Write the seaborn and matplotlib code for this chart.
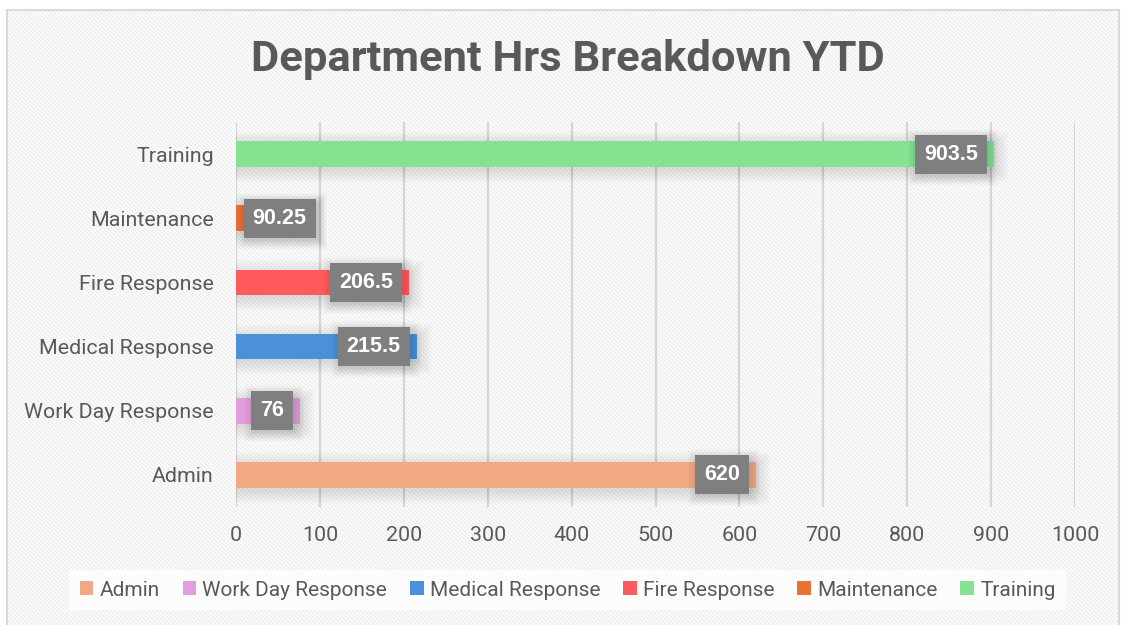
import matplotlib
matplotlib.use("Agg")
import matplotlib.pyplot as plt
from matplotlib.patches import Rectangle, Patch
import seaborn as sns
import pandas as pd

categories = ["Admin", "Work Day Response", "Medical Response",
              "Fire Response", "Maintenance", "Training"]
hours = [620, 76, 215.5, 206.5, 90.25, 903.5]
colors = ["#F1A883", "#E39EDD", "#4A91DA", "#FF5B5D", "#E97132", "#84E291"]
x_ticks = [0, 100, 200, 300, 400, 500, 600, 700, 800, 900, 1000]
title = "Department Hrs Breakdown YTD"

df = pd.DataFrame({"category": categories, "hours": hours})
palette = dict(zip(categories, colors))
order = categories[::-1]

sns.set_theme(style="white")
plt.rcParams["font.family"] = ["Roboto", "DejaVu Sans"]
plt.rcParams["hatch.linewidth"] = 1.2

TXT = "#595959"
W, H, DPI = 11.22, 6.25, 100
fig = plt.figure(figsize=(W, H), dpi=DPI)
fig.patch.set_facecolor("white")

# striped chart background and thin outer frame
fig.patches.append(Rectangle((7 / 1122, 0), 1112 / 1122, 615 / 625,
                             transform=fig.transFigure, facecolor="white",
                             edgecolor="#efefef", hatch="\\" * 8, lw=0,
                             zorder=-10))
fig.patches.append(Rectangle((7 / 1122, -0.01), 1112 / 1122, 615 / 625 + 0.01,
                             transform=fig.transFigure, facecolor="none",
                             edgecolor="#d9d9d9", lw=1.5, zorder=-9))

ax = fig.add_axes([236 / 1122, 1 - 507 / 625, 839 / 1122, 385 / 625])
ax.set_facecolor("none")

sns.barplot(data=df, x="hours", y="category", hue="category", order=order,
            hue_order=categories, palette=palette, orient="h", width=0.4,
            dodge=False, legend=False, saturation=1, linewidth=0, ax=ax,
            zorder=3)

ax.set_xlim(0, 1000)
ax.set_ylim(5.5, -0.5)
ax.set_xticks(x_ticks)
ax.set_xticklabels([str(t) for t in x_ticks])
ax.set_xlabel("")
ax.set_ylabel("")
for s in ax.spines.values():
    s.set_visible(False)
ax.grid(axis="x", color="#d6d6d6", lw=1.6, zorder=0)
ax.grid(axis="y", visible=False)
ax.tick_params(axis="both", length=0, labelcolor=TXT, labelsize=15.4)
ax.tick_params(axis="y", pad=16)
ax.tick_params(axis="x", pad=14)

px_x = 1000 / 839
px_y = 6 / 385


def soft_shadow(x0, y0, w, h, dx=2, dy=3, layers=14, alpha=0.009, z=2):
    """Stack of faint growing rectangles that reads as a blurred shadow."""
    for k in range(layers):
        ax.add_patch(Rectangle((x0 - (k - dx) * px_x, y0 - (k - dy) * px_y),
                               w + 2 * k * px_x, h + 2 * k * px_y,
                               facecolor="black", edgecolor="none", lw=0,
                               alpha=alpha, zorder=z))


bars = [p for p in ax.patches if isinstance(p, Rectangle)]
for p in bars:
    soft_shadow(p.get_x(), p.get_y(), p.get_width(), p.get_height())

# value labels inside the bar ends
fig.canvas.draw()
renderer = fig.canvas.get_renderer()
left_px = ax.transData.transform((0, 0))[0]
labels = []
for p in bars:
    val = p.get_width()
    yc = p.get_y() + p.get_height() / 2
    t = ax.annotate(f"{val:g}", xy=(val, yc), xytext=(-11.5, 0),
                    textcoords="offset points", ha="right", va="center",
                    color="white", fontsize=15.5, fontweight="bold",
                    family="Liberation Sans", zorder=6,
                    bbox=dict(boxstyle="square,pad=0.42", fc="#7f7f7f",
                              ec="none", lw=0))
    bb = t.get_window_extent(renderer)
    if bb.x0 - 9 < left_px + 8:
        t.set_ha("left")
        t.xy = (0, yc)
        t.set_position((12, 0))
    labels.append(t)

fig.canvas.draw()
inv = ax.transData.inverted()
for t in labels:
    bb = t.get_bbox_patch().get_window_extent(renderer)
    (x0, y1), (x1, y0) = inv.transform([(bb.x0, bb.y0), (bb.x1, bb.y1)])
    soft_shadow(x0, y0, x1 - x0, y1 - y0, layers=10, alpha=0.012, z=5)

fig.suptitle(title, x=0.506, y=1 - 60 / 625, va="center", fontsize=31.3,
             fontweight="bold", color=TXT)

handles = [Patch(facecolor=c, edgecolor="none") for c in colors]
leg = fig.legend(handles, categories, loc="center", ncol=6,
                 bbox_to_anchor=(0.506, 1 - 590 / 625), frameon=True,
                 fontsize=15, labelcolor=TXT, handlelength=0.65,
                 handleheight=0.65, handletextpad=0.3, columnspacing=1.1,
                 borderpad=0.5, fancybox=False)
leg.get_frame().set_facecolor("white")
leg.get_frame().set_alpha(0.8)
leg.get_frame().set_edgecolor("none")

fig.savefig("out.png", dpi=DPI, facecolor="white")
